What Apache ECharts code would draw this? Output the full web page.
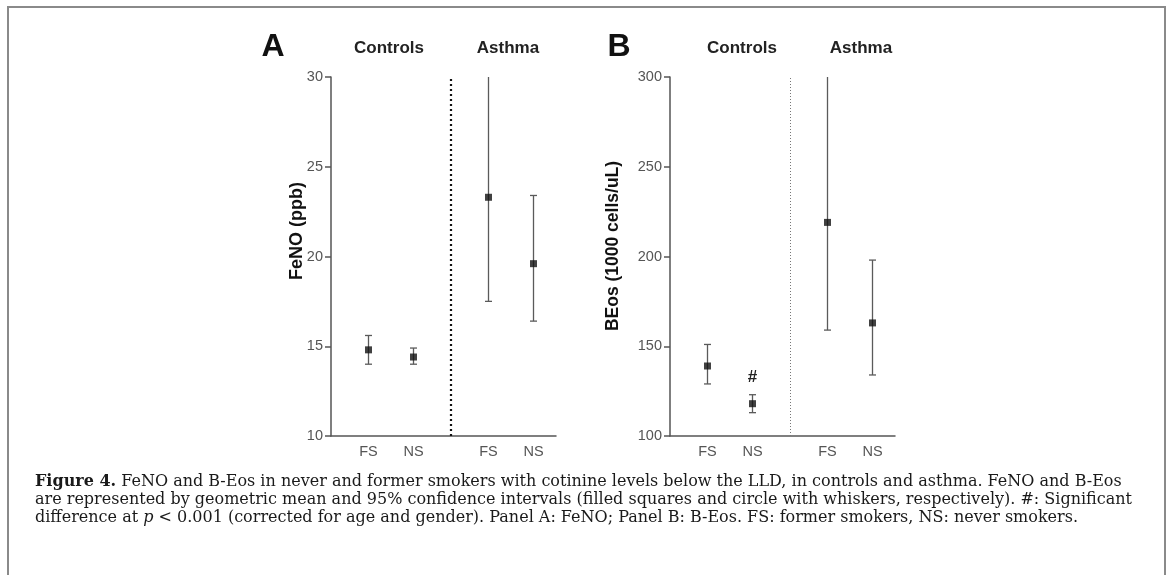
<!DOCTYPE html>
<html>
<head>
<meta charset="utf-8">
<script src="https://cdn.jsdelivr.net/npm/echarts@6/dist/echarts.min.js"></script>
<style>
html,body{margin:0;padding:0;background:#fff;}
#chart{width:1171px;height:575px;}
</style>
</head>
<body>
<div id="chart"></div>
<script>
// groups and smoking status
var groups = ['Controls', 'Asthma'];
var smokeLabels = ['FS', 'NS', 'FS', 'NS'];

// panel A: FeNO (ppb), geometric mean + 95% CI
var fenoMean = [14.8, 14.4, 23.3, 19.6];
var fenoLow = [14.0, 14.0, 17.5, 16.4];
var fenoHigh = [15.6, 14.9, 31.0, 23.4];   // asthma FS runs past the top of the axis

// panel B: B-Eos (1000 cells/uL)
var beosMean = [139, 118, 219, 163];
var beosLow = [129, 113, 159, 134];
var beosHigh = [151, 123, 310, 198];       // asthma FS runs past the top of the axis
var beosSig = ['', '#', '', ''];

var fenoTicks = [10, 15, 20, 25, 30];
var beosTicks = [100, 150, 200, 250, 300];

// slot positions along the x axis (0..15), divider between groups
var slots = [2.5, 5.5, 10.5, 13.5];
var divider = 8;

var chart = echarts.init(document.getElementById('chart'));

var sans = 'Liberation Sans, Arial, sans-serif';
var axisGrey = '#555';

function xAxisFor(idx) {
    return {
        type: 'value', gridIndex: idx, min: 0, max: 15, interval: 0.5,
        axisLine: {lineStyle: {color: axisGrey, width: 1.5}},
        axisTick: {show: false},
        splitLine: {show: false},
        axisLabel: {
            color: axisGrey, fontFamily: sans, fontSize: 14.5, margin: 8,
            formatter: function (v) {
                var i = slots.indexOf(v);
                return i >= 0 ? smokeLabels[i] : '';
            }
        }
    };
}

function yAxisFor(idx, ticks) {
    return {
        type: 'value', gridIndex: idx,
        min: ticks[0], max: ticks[ticks.length - 1], interval: ticks[1] - ticks[0],
        axisLine: {show: true, lineStyle: {color: axisGrey, width: 1.5}},
        axisTick: {show: true, length: 6, lineStyle: {color: axisGrey, width: 1.5}},
        splitLine: {show: false},
        axisLabel: {color: axisGrey, fontFamily: sans, fontSize: 14.5, margin: 8}
    };
}

function errData(low, high, sig) {
    return slots.map(function (x, i) {
        return [x, low[i], high[i], sig ? sig[i] : ''];
    });
}

function makeErrRender(yMax) {
    return function (params, api) {
        var x = api.value(0);
        var lo = api.value(1);
        var hi = api.value(2);
        var clipped = hi > yMax;
        var pLo = api.coord([x, lo]);
        var pHi = api.coord([x, Math.min(hi, yMax)]);
        var cap = 3.5;
        var st = {stroke: '#5a5a5a', lineWidth: 1.3};
        var kids = [
            {type: 'line', shape: {x1: pLo[0], y1: pLo[1], x2: pHi[0], y2: pHi[1]}, style: st},
            {type: 'line', shape: {x1: pLo[0] - cap, y1: pLo[1], x2: pLo[0] + cap, y2: pLo[1]}, style: st}
        ];
        if (!clipped) {
            kids.push({type: 'line', shape: {x1: pHi[0] - cap, y1: pHi[1], x2: pHi[0] + cap, y2: pHi[1]}, style: st});
        }
        var s = api.value(3);
        if (s) {
            kids.push({type: 'text', x: pHi[0], y: pHi[1] - 17,
                style: {text: s, fill: '#222', font: 'bold 17px ' + sans, align: 'center', verticalAlign: 'middle'}});
        }
        return {type: 'group', children: kids};
    };
}

function meanData(mean) {
    return slots.map(function (x, i) { return [x, mean[i]]; });
}

var option = {
    animation: false,
    backgroundColor: '#fff',
    grid: [
        {left: 331, top: 77, width: 225, height: 359},
        {left: 670, top: 77, width: 225, height: 359}
    ],
    xAxis: [xAxisFor(0), xAxisFor(1)],
    yAxis: [yAxisFor(0, fenoTicks), yAxisFor(1, beosTicks)],
    series: [
        {
            type: 'custom', xAxisIndex: 0, yAxisIndex: 0,
            renderItem: makeErrRender(fenoTicks[fenoTicks.length - 1]),
            data: errData(fenoLow, fenoHigh), z: 2,
            markLine: {
                silent: true, symbol: 'none', label: {show: false},
                lineStyle: {color: '#111', width: 2.2, type: [2, 3]},
                data: [{xAxis: divider}]
            }
        },
        {
            type: 'scatter', xAxisIndex: 0, yAxisIndex: 0,
            symbol: 'rect', symbolSize: 7, itemStyle: {color: '#111'},
            data: meanData(fenoMean), z: 3
        },
        {
            type: 'custom', xAxisIndex: 1, yAxisIndex: 1,
            renderItem: makeErrRender(beosTicks[beosTicks.length - 1]),
            data: errData(beosLow, beosHigh, beosSig), z: 2,
            markLine: {
                silent: true, symbol: 'none', label: {show: false},
                lineStyle: {color: '#777', width: 1, type: [1, 2]},
                data: [{xAxis: divider}]
            }
        },
        {
            type: 'scatter', xAxisIndex: 1, yAxisIndex: 1,
            symbol: 'rect', symbolSize: 7, itemStyle: {color: '#111'},
            data: meanData(beosMean), z: 3
        }
    ],
    graphic: [
        {type: 'rect', shape: {x: 8, y: 7, width: 1157, height: 600},
            style: {fill: 'none', stroke: '#8a8a8a', lineWidth: 2}, silent: true},
        // panel letters and group headers
        {type: 'text', x: 273, y: 47, style: {text: 'A', font: 'bold 32px ' + sans, fill: '#111', align: 'center', verticalAlign: 'middle'}},
        {type: 'text', x: 389, y: 48, style: {text: groups[0], font: 'bold 17px ' + sans, fill: '#222', align: 'center', verticalAlign: 'middle'}},
        {type: 'text', x: 508, y: 48, style: {text: groups[1], font: 'bold 17px ' + sans, fill: '#222', align: 'center', verticalAlign: 'middle'}},
        {type: 'text', x: 619, y: 47, style: {text: 'B', font: 'bold 32px ' + sans, fill: '#111', align: 'center', verticalAlign: 'middle'}},
        {type: 'text', x: 742, y: 48, style: {text: groups[0], font: 'bold 17px ' + sans, fill: '#222', align: 'center', verticalAlign: 'middle'}},
        {type: 'text', x: 861, y: 48, style: {text: groups[1], font: 'bold 17px ' + sans, fill: '#222', align: 'center', verticalAlign: 'middle'}},
        // y axis titles
        {type: 'text', x: 297, y: 231, rotation: Math.PI / 2,
            style: {text: 'FeNO (ppb)', font: 'bold 18px ' + sans, fill: '#111', align: 'center', verticalAlign: 'middle'}},
        {type: 'text', x: 613, y: 246, rotation: Math.PI / 2,
            style: {text: 'BEos (1000 cells/uL)', font: 'bold 17.5px ' + sans, fill: '#111', align: 'center', verticalAlign: 'middle'}},
        // caption
        {type: 'text', x: 35, y: 482, style: {
            text: '{b|Figure 4.} FeNO and B-Eos in never and former smokers with cotinine levels below the LLD, in controls and asthma. FeNO and B-Eos',
            font: '16px DejaVu Serif', fill: '#1a1a1a', verticalAlign: 'middle',
            rich: {b: {fontWeight: 'bold', fontFamily: 'DejaVu Serif', fontSize: 16}}}},
        {type: 'text', x: 35, y: 500, style: {
            text: 'are represented by geometric mean and 95% confidence intervals (filled squares and circle with whiskers, respectively). #: Significant',
            font: '16px DejaVu Serif', fill: '#1a1a1a', verticalAlign: 'middle'}},
        {type: 'text', x: 35, y: 518, style: {
            text: 'difference at {i|p} < 0.001 (corrected for age and gender). Panel A: FeNO; Panel B: B-Eos. FS: former smokers, NS: never smokers.',
            font: '16px DejaVu Serif', fill: '#1a1a1a', verticalAlign: 'middle',
            rich: {i: {fontStyle: 'italic', fontFamily: 'DejaVu Serif', fontSize: 16}}}}
    ]
};

chart.setOption(option);
</script>
</body>
</html>
